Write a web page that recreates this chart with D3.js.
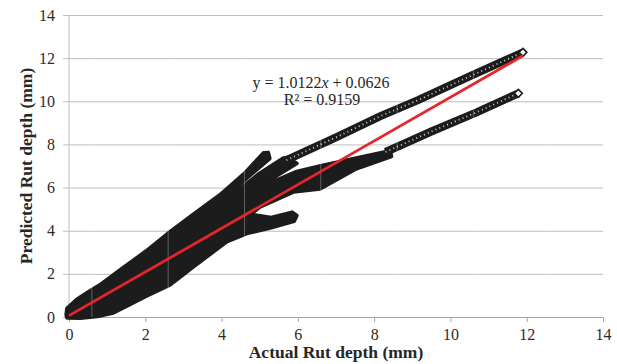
<!DOCTYPE html>
<html>
<head>
<meta charset="utf-8">
<script src="https://cdn.jsdelivr.net/npm/d3@7"></script>
<style>
  body { margin: 0; background: #fff; }
  svg { display: block; }
</style>
</head>
<body>
<script>
// tick labels on both axes (mm)
var tickValues = [0, 2, 4, 6, 8, 10, 12, 14];

// outline of the dense cloud of points (actual, predicted), traced round from the picture
var cloudX = [-0.07, -0.05, 0.2, 0.5, 0.81, 1.4, 2.02, 2.58, 3.3, 3.96,
              4.6, 5.1, 5.22, 5.26, 4.7, 4.05,
              4.5, 5.0, 5.62, 5.72, 5.97, 5.3, 4.4,
              5.2, 5.97, 6.6, 7.5, 8.42, 8.45, 7.5, 6.58, 5.88, 5.0, 4.75,
              5.3, 5.85, 5.97, 5.9, 5.3, 4.66,
              4.13, 3.26, 2.65, 2.0, 1.5, 1.16, 0.8, 0.3, -0.05];
var cloudY = [0.1, 0.4, 0.8, 1.15, 1.48, 2.25, 3.05, 3.85, 4.8, 5.66,
              6.65, 7.6, 7.62, 7.35, 6.5, 5.5,
              5.95, 6.66, 7.36, 7.38, 7.12, 6.4, 5.42,
              6.15, 6.74, 7.0, 7.35, 7.7, 7.45, 6.85, 5.95, 5.8, 5.1, 4.75,
              4.6, 4.85, 4.7, 4.45, 4.15, 3.88,
              3.49, 2.33, 1.5, 0.95, 0.5, 0.2, 0.05, -0.05, -0.03];

// the two thin tails of single diamonds
var upperTailX = [5.7, 7.0, 8.15, 9.15, 10.5, 11.9];
var upperTailY = [7.27, 8.33, 9.3, 10.05, 11.15, 12.27];
var lowerTailX = [8.3, 9.5, 10.7, 11.78];
var lowerTailY = [7.65, 8.6, 9.5, 10.37];

// faint light streaks that cross the cloud
var streakX = [0.6, 2.6, 4.6, 6.6, 8.6, 10.6, 12.6];

// linear trendline
var slope = 1.0122, intercept = 0.0626, rSquared = 0.9159;
var trendX = [0, 11.9];

var width = 617, height = 364;
var margin = { top: 15, right: 14, bottom: 47, left: 69 };

var svg = d3.select("body").append("svg")
  .attr("width", width)
  .attr("height", height)
  .style("font-family", "'Liberation Serif', 'Times New Roman', serif");

svg.append("rect").attr("width", width).attr("height", height).attr("fill", "#fff");

var xScale = d3.scaleLinear().domain([0, 14]).range([margin.left, width - margin.right]);
var yScale = d3.scaleLinear().domain([0, 14]).range([height - margin.bottom, margin.top]);

// horizontal gridlines with left ticks
var yAxis = d3.axisLeft(yScale)
  .tickValues(tickValues)
  .tickSize(0)
  .tickPadding(8);
var gy = svg.append("g")
  .attr("transform", "translate(" + (margin.left - 6) + ",0)")
  .call(yAxis);
gy.select(".domain").remove();
gy.selectAll(".tick line").attr("stroke", "#bdbdbd")
  .attr("x1", 0).attr("x2", width - margin.right - margin.left + 6);
gy.selectAll(".tick text").attr("font-size", 16).attr("fill", "#2b2b2b")
  .attr("font-family", "'Liberation Serif', serif");

// vertical axis line
svg.append("line")
  .attr("x1", xScale(0)).attr("x2", xScale(0))
  .attr("y1", yScale(14)).attr("y2", yScale(0))
  .attr("stroke", "#bdbdbd");

// bottom axis
var xAxis = d3.axisBottom(xScale).tickValues(tickValues).tickSize(5).tickSizeOuter(0).tickPadding(7);
var gx = svg.append("g")
  .attr("transform", "translate(0," + yScale(0) + ")")
  .call(xAxis);
gx.select(".domain").attr("stroke", "#a8a8a8");
gx.selectAll(".tick line").attr("stroke", "#a8a8a8");
gx.selectAll(".tick text").attr("font-size", 16).attr("fill", "#2b2b2b")
  .attr("font-family", "'Liberation Serif', serif");

// point cloud
var cloud = d3.range(cloudX.length).map(function(i) { return [cloudX[i], cloudY[i]]; });
var line = d3.line()
  .x(function(d) { return xScale(d[0]); })
  .y(function(d) { return yScale(d[1]); });

svg.append("path")
  .datum(cloud)
  .attr("d", function(d) { return line(d) + "Z"; })
  .attr("fill", "#1c1c1c")
  .attr("stroke", "#1c1c1c")
  .attr("stroke-width", 4)
  .attr("stroke-linejoin", "round");

// tails drawn as chains of overlapping open diamonds
function tail(xs, ys) {
  var pts = xs.map(function(x, i) { return [x, ys[i]]; });
  svg.append("path").datum(pts).attr("d", line)
    .attr("fill", "none").attr("stroke", "#1c1c1c").attr("stroke-width", 8);
  svg.append("path").datum(pts).attr("d", line)
    .attr("fill", "none").attr("stroke", "#fff").attr("stroke-width", 1.8)
    .attr("stroke-dasharray", "1,3.2").attr("opacity", 0.8);
  var last = pts[pts.length - 1];
  svg.append("path")
    .attr("d", d3.symbol(d3.symbolDiamond2, 40))
    .attr("transform", "translate(" + xScale(last[0]) + "," + yScale(last[1]) + ")")
    .attr("fill", "#fff").attr("stroke", "#1c1c1c").attr("stroke-width", 1.6);
}
tail(upperTailX, upperTailY);
tail(lowerTailX, lowerTailY);

// light streaks
svg.selectAll(".streak").data(streakX).enter().append("line")
  .attr("class", "streak")
  .attr("x1", function(d) { return xScale(d); })
  .attr("x2", function(d) { return xScale(d); })
  .attr("y1", yScale(14)).attr("y2", yScale(0))
  .attr("stroke", "#fff").attr("stroke-opacity", 0.3);

// trendline
svg.append("path")
  .datum(trendX.map(function(x) { return [x, slope * x + intercept]; }))
  .attr("d", line)
  .attr("stroke", "#e5262b")
  .attr("stroke-width", 2.8)
  .attr("fill", "none");

// equation
var eq = svg.append("text")
  .attr("x", 321).attr("y", 88)
  .attr("text-anchor", "middle")
  .attr("font-size", 16).attr("fill", "#262626");
eq.append("tspan").text("y = " + slope.toFixed(4));
eq.append("tspan").attr("font-style", "italic").text("x");
eq.append("tspan").text(" + " + intercept.toFixed(4));

svg.append("text")
  .attr("x", 322).attr("y", 105)
  .attr("text-anchor", "middle")
  .attr("font-size", 16).attr("fill", "#262626")
  .text("R\u00b2 = " + rSquared.toFixed(4));

// axis titles
svg.append("text")
  .attr("x", (xScale(0) + xScale(14)) / 2)
  .attr("y", 358)
  .attr("text-anchor", "middle")
  .attr("font-size", 17.5).attr("font-weight", "bold").attr("fill", "#262626")
  .text("Actual Rut depth (mm)");

svg.append("text")
  .attr("transform", "translate(32," + ((yScale(0) + yScale(14)) / 2) + ") rotate(-90)")
  .attr("text-anchor", "middle")
  .attr("font-size", 17.5).attr("font-weight", "bold").attr("fill", "#262626")
  .text("Predicted Rut depth (mm)");
</script>
</body>
</html>
